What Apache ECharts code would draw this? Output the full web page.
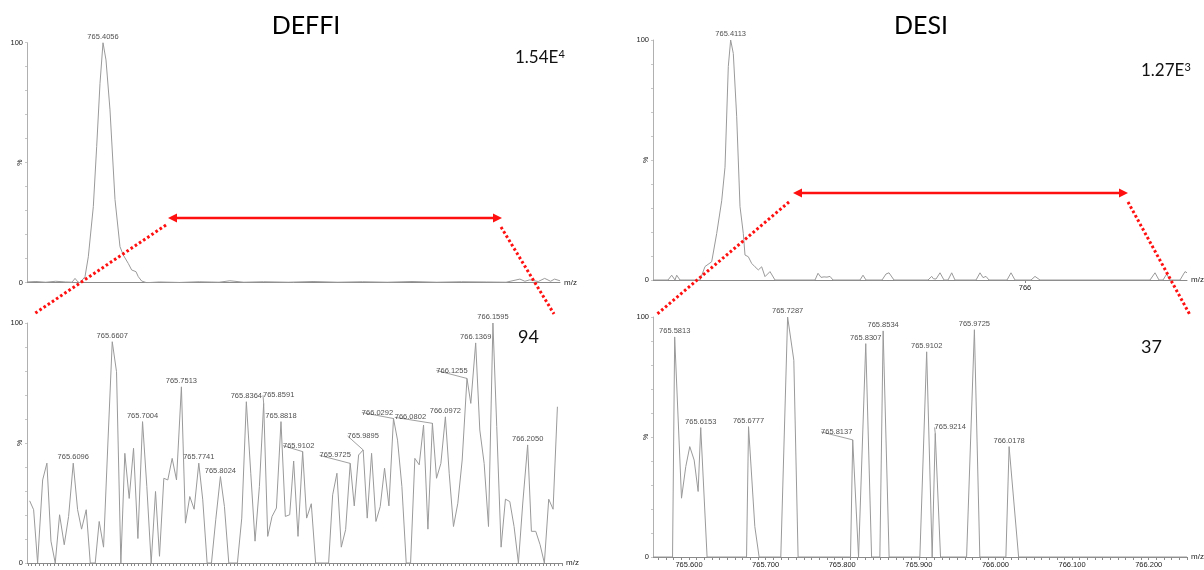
<!DOCTYPE html>
<html><head><meta charset="utf-8">
<script src="https://cdn.jsdelivr.net/npm/echarts@6/dist/echarts.min.js"></script>
<style>html,body{margin:0;padding:0;background:#fff}#c{width:1204px;height:570px}</style>
</head><body><div id="c"></div>
<script>
// ---------------- DATA ----------------
// Top-left (DEFFI, full scan around m/z 765.4)
const tlSpectrum = [[765.252,0.3],[765.27,0.5],[765.29,0.2],[765.31,0.6],[765.33,0.3],[765.343,0.2],[765.349,1.8],[765.355,0.3],[765.3591,0],[765.3692,2.5],[765.3759,10.8],[765.3860,31.7],[765.3928,56.7],[765.3995,83],[765.4056,100],[765.4116,92.8],[765.4197,72],[765.4298,34.7],[765.4399,15],[765.4466,11.5],[765.4567,8],[765.4635,5.3],[765.4722,4.6],[765.4769,2.5],[765.4837,0.7],[765.4938,0],[765.52,0.3],[765.56,0.1],[765.60,0.4],[765.64,0.2],[765.662,0.8],[765.69,0.2],[765.73,0.4],[765.78,0.2],[765.83,0.5],[765.88,0.2],[765.93,0.4],[765.98,0.2],[766.03,0.5],[766.08,0.2],[766.13,0.4],[766.18,0.3],[766.22,0.2],[766.248,1.5],[766.258,0.6],[766.268,1.2],[766.285,0.5],[766.298,1.8],[766.31,0.6],[766.318,1.5],[766.329,0.8]];
const tlPeakMz = [765.4056];

// Top-right (DESI)
const trSpectrum = [[765.256,0],[765.286,0],[765.2934,2],[765.300,0],[765.3034,2],[765.310,0],[765.350,0],[765.360,5.6],[765.3734,7.6],[765.3834,19.4],[765.3934,33],[765.400,47],[765.4066,89],[765.4113,100],[765.4166,94.4],[765.4234,68],[765.430,30.6],[765.4366,19.4],[765.440,10.4],[765.4466,9.7],[765.4534,6.9],[765.460,5.5],[765.4666,4.2],[765.4734,5.5],[765.480,1.4],[765.490,3.5],[765.500,0],[765.580,0],[765.586,2.8],[765.592,1.1],[765.598,1.3],[765.604,1.2],[765.610,1.5],[765.616,0],[765.670,0],[765.676,2],[765.682,0],[765.714,0],[765.722,2.5],[765.728,3],[765.738,0],[765.806,0],[765.8134,1.5],[765.817,0.5],[765.822,0.4],[765.830,3],[765.838,0],[765.846,0],[765.8534,3],[765.860,0],[765.902,0],[765.910,3],[765.916,1],[765.922,1.5],[765.928,0],[765.964,0],[765.972,3],[765.980,0],[766.012,0],[766.020,1.5],[766.030,0],[766.250,0],[766.260,3],[766.268,0],[766.276,0],[766.2834,2.5],[766.290,0],[766.310,0],[766.320,3.5],[766.324,3]];
const trPeakMz = [765.4113];
const trTickLabels = [766];

// Bottom-left (DEFFI, zoom)
const blSpectrum = [[765.5525,25.9],[765.5577,22.2],[765.5629,0],[765.5695,34.6],[765.5751,41.6],[765.5804,9.1],[765.5860,0],[765.5917,20.1],[765.5978,7.6],[765.6035,19.4],[765.6096,41.6],[765.6153,22.2],[765.6205,14.1],[765.6266,22.2],[765.6319,0],[765.6384,0],[765.6436,17.3],[765.6493,6.6],[765.6550,50],[765.6607,92.2],[765.6663,79.7],[765.6720,0],[765.6772,45.7],[765.6829,26.9],[765.6886,47.8],[765.6943,10.2],[765.7004,58.9],[765.7060,31.9],[765.7117,0],[765.7174,29.8],[765.7226,2.8],[765.7283,35.3],[765.7335,34.6],[765.7392,43.6],[765.7449,34.6],[765.7513,73.4],[765.7566,16.6],[765.7623,27.7],[765.7680,22.4],[765.7741,41.6],[765.7793,26.3],[765.7850,0],[765.7907,0],[765.7963,18.0],[765.8024,36.0],[765.8077,23.5],[765.8134,0],[765.8190,0],[765.8247,0],[765.8304,18.7],[765.8364,67.2],[765.8422,37.4],[765.8478,9.1],[765.8535,31.9],[765.8591,66.5],[765.8644,11.1],[765.8701,19.4],[765.8758,22.9],[765.8818,58.9],[765.8875,19.4],[765.8932,20.1],[765.8984,42.5],[765.9041,11.1],[765.9102,46.4],[765.9154,18.7],[765.9215,24.7],[765.9272,0],[765.9329,0],[765.9385,0],[765.9442,0],[765.9495,28.4],[765.9551,37.4],[765.9608,6.6],[765.9665,13.9],[765.9725,41.5],[765.9778,23.8],[765.9835,45.0],[765.9895,47.1],[765.9948,18.7],[766.0005,45.7],[766.0062,17.3],[766.0118,23.5],[766.0175,39.5],[766.0232,23.8],[766.0292,60.2],[766.0345,51.2],[766.0402,31.9],[766.0459,0],[766.0516,0],[766.0572,43.6],[766.0629,40.9],[766.0686,57.5],[766.0743,14.1],[766.0802,58.2],[766.0856,35.3],[766.0913,41.5],[766.0972,60.9],[766.1022,37.4],[766.1078,15.2],[766.1135,24.9],[766.1192,42.9],[766.1255,76.9],[766.1305,66.5],[766.1369,91.7],[766.1423,55.4],[766.1480,41.5],[766.1537,15.2],[766.1595,100],[766.1645,56.8],[766.1702,6.6],[766.1759,26.6],[766.1816,25.6],[766.1872,15.2],[766.1929,0],[766.1986,25],[766.2050,49.2],[766.2099,13.2],[766.2156,13.2],[766.2213,7.6],[766.2269,0],[766.2326,26.6],[766.2383,22.4],[766.2440,65.1]];
const blPeakMz = [765.6096,765.6607,765.7004,765.7513,765.7741,765.8024,765.8364,765.8591,765.8818,765.9102,765.9725,765.9895,766.0292,766.0802,766.0972,766.1255,766.1369,766.1595,766.2050];

// Bottom-right (DESI, zoom)
const brSpectrum = [[765.553,0],[765.5785,0],[765.5813,91.7],[765.5902,24.5],[765.5958,37.7],[765.6010,46],[765.6067,40.4],[765.6119,27.3],[765.6153,53.9],[765.6236,0],[765.6751,0],[765.6777,54.3],[765.6859,12.7],[765.6915,0],[765.7198,0],[765.7287,100],[765.7368,82],[765.7424,0],[765.8108,0],[765.8137,48.8],[765.8213,0],[765.8307,88.9],[765.8383,0],[765.8491,0],[765.8534,94.2],[765.8612,0],[765.9013,0],[765.9102,85.5],[765.9174,0],[765.9214,51.5],[765.9283,0],[765.9623,0],[765.9725,94.7],[765.9796,0],[766.0136,0],[766.0178,46],[766.0302,0],[766.25,0]];
const brPeakMz = [765.5813,765.6153,765.6777,765.7287,765.8137,765.8307,765.8534,765.9102,765.9214,765.9725,766.0178];
const brTickLabels = [765.6,765.7,765.8,765.9,766.0,766.1,766.2];

const yTickLabels = [0, 100];
const titles = ['DEFFI', 'DESI'];
const intensities = [['1.54E', '4'], ['1.27E', '3']];
const zoomCounts = ['94', '37'];

// ---------------- STYLE / LAYOUT ----------------
const blLabelShift = {
  '765.8591':[15,-2], '765.9102':[-4,0], '765.9725':[-15,-2], '765.9895':[0,-8],
  '766.0292':[-16,0], '766.0802':[-22,0], '766.1255':[-15,-2]
};
const brLabelShift = {'765.8137':[-16,-2], '765.9214':[15,0]};
const panels = [
  {spec: tlSpectrum, peaks: tlPeakMz, shift:{}, grid:{left:27, top:42.7, width:533, height:240}, min:765.252, max:766.329, labels:[], ticks:[], fmt:v=>''},
  {spec: trSpectrum, peaks: trPeakMz, shift:{}, grid:{left:653, top:40, width:534, height:240}, min:765.256, max:766.324, labels:trTickLabels, ticks:trTickLabels, fmt:v=>String(Math.round(v))},
  {spec: blSpectrum, peaks: blPeakMz, shift:blLabelShift, grid:{left:27, top:323, width:535, height:240}, min:765.549, max:766.25, labels:[], ticks:steps(765.549,766.25,0.005), fmt:v=>''},
  {spec: brSpectrum, peaks: brPeakMz, shift:brLabelShift, grid:{left:653, top:317, width:534, height:240}, min:765.553, max:766.25, labels:brTickLabels, ticks:steps(765.553,766.25,0.01), fmt:v=>v.toFixed(3)}
];

function steps(a, b, s) {
  const out = [];
  for (let k = Math.ceil(a / s - 1e-9); k * s <= b + 1e-9; k++) out.push(+(k * s).toFixed(4));
  return out;
}
function lookup(spec, mz) {
  let best = spec[0];
  spec.forEach(p => { if (Math.abs(p[0] - mz) < Math.abs(best[0] - mz)) best = p; });
  return best[1];
}

const AX = '#8a8a8a', TXT = '#222', LINE = '#9a9a9a';
const option = {animation:false, backgroundColor:'#fff', grid:[], xAxis:[], yAxis:[], series:[], graphic:[]};

panels.forEach((p, i) => {
  option.grid.push(Object.assign({outerBoundsMode:'none', containLabel:false}, p.grid));
  option.xAxis.push({
    type:'value', gridIndex:i, min:p.min, max:p.max,
    name:'m/z', nameLocation:'end', nameGap:4, nameMoveOverlap:false,
    nameTextStyle:{fontSize:8, color:TXT, fontFamily:'Liberation Sans'},
    axisLine:{lineStyle:{color:AX, width:1}},
    axisTick:{show:p.ticks.length>0, customValues:p.ticks, length:3, lineStyle:{color:AX}},
    axisLabel:{show:p.labels.length>0, customValues:p.labels, formatter:p.fmt, fontSize:7.5, color:TXT, margin:4, fontFamily:'Liberation Sans'},
    splitLine:{show:false}
  });
  option.yAxis.push({
    type:'value', gridIndex:i, min:0, max:100,
    name:'%', nameLocation:'middle', nameGap:3, nameRotate:90, nameMoveOverlap:false,
    nameTextStyle:{fontSize:7, color:TXT, fontFamily:'Liberation Sans'},
    axisLine:{show:true, lineStyle:{color:'#b0b0b0', width:1}},
    axisTick:{show:true, customValues:steps(0,100,10), length:2, lineStyle:{color:'#c8c8c8'}},
    axisLabel:{customValues:yTickLabels, fontSize:7.5, color:TXT, margin:4, fontFamily:'Liberation Sans'},
    splitLine:{show:false}
  });
  option.series.push({
    type:'line', xAxisIndex:i, yAxisIndex:i, data:p.spec, symbol:'none',
    lineStyle:{color:LINE, width:1}, z:2
  });
  option.series.push({
    type:'scatter', xAxisIndex:i, yAxisIndex:i, symbolSize:0, silent:true, z:3,
    data:p.peaks.map(m => {
      const name = m.toFixed(4);
      const item = {value:[m, lookup(p.spec, m)], name:name};
      if (p.shift[name]) item.labelLine = {show:true};
      return item;
    }),
    label:{show:true, position:'top', distance:2, formatter:'{b}', fontSize:7.5, color:TXT, fontFamily:'Liberation Sans'},
    labelLine:{show:false, lineStyle:{color:'#777', width:0.7}},
    labelLayout: function (prm) {
      const s = p.shift[prm.text];
      return s ? {dx:s[0], dy:s[1]} : {};
    }
  });
});

// --------------- annotations ---------------
const RED = '#ff1010';
const F = 'Lato, "Open Sans", sans-serif';
function arrow(x1, x2, y) {
  const L = 9, W = 4.5;
  return [
    {type:'line', shape:{x1:x1+L-1, y1:y, x2:x2-L+1, y2:y}, style:{stroke:RED, lineWidth:2.6}, z:100},
    {type:'polygon', shape:{points:[[x1,y],[x1+L,y-W],[x1+L,y+W]]}, style:{fill:RED}, z:100},
    {type:'polygon', shape:{points:[[x2,y],[x2-L,y-W],[x2-L,y+W]]}, style:{fill:RED}, z:100}
  ];
}
function dotted(x1, y1, x2, y2) {
  return {type:'line', shape:{x1, y1, x2, y2}, style:{stroke:RED, lineWidth:3, lineDash:[2.6,2.4]}, z:100};
}
option.graphic = [].concat(
  arrow(168, 502, 218), [dotted(166,225,34,314), dotted(501,227,554,314)],
  arrow(793, 1128, 193), [dotted(789,202,656,315), dotted(1128,202,1190,315)],
  [
    {type:'text', x:306, y:26, style:{text:titles[0], font:'25px '+F, fill:'#000', textAlign:'center', textVerticalAlign:'middle'}, z:100},
    {type:'text', x:921, y:26, style:{text:titles[1], font:'25px '+F, fill:'#000', textAlign:'center', textVerticalAlign:'middle'}, z:100},
    {type:'text', x:515, y:58, style:{text:intensities[0][0]+'{s|'+intensities[0][1]+'}', font:'17px '+F, fill:'#111', textVerticalAlign:'middle', rich:{s:{fontSize:11, fontFamily:'Lato', verticalAlign:'top', padding:[0,0,8,0]}}}, z:100},
    {type:'text', x:1141, y:71, style:{text:intensities[1][0]+'{s|'+intensities[1][1]+'}', font:'17px '+F, fill:'#111', textVerticalAlign:'middle', rich:{s:{fontSize:11, fontFamily:'Lato', verticalAlign:'top', padding:[0,0,8,0]}}}, z:100},
    {type:'text', x:518, y:337, style:{text:zoomCounts[0], font:'18px '+F, fill:'#111', textVerticalAlign:'middle'}, z:100},
    {type:'text', x:1141, y:347, style:{text:zoomCounts[1], font:'18px '+F, fill:'#111', textVerticalAlign:'middle'}, z:100}
  ]
);

const chart = echarts.init(document.getElementById('c'), null, {renderer:'canvas'});
chart.setOption(option);
</script></body></html>
